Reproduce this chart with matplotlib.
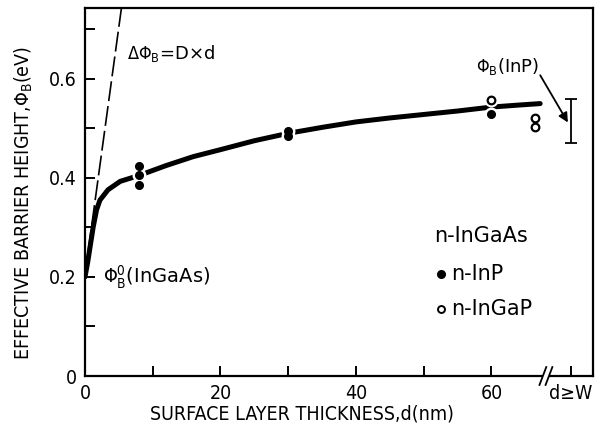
import matplotlib
matplotlib.use("Agg")
import matplotlib.pyplot as plt
import numpy as np

plt.rcParams['font.family'] = ['DejaVu Sans']
plt.rcParams['font.stretch'] = 'condensed'
plt.rcParams['mathtext.fontset'] = 'dejavusans'

# Fitted curve (effective barrier height vs. surface layer thickness)
curve_d = [0, 0.4, 0.8, 1.2, 1.7, 2.2, 3.4, 5.2, 8, 12, 16, 20, 25, 30, 35, 40, 45, 50, 55, 60, 64, 67.2]
curve_phi = [0.20, 0.23, 0.265, 0.30, 0.335, 0.355, 0.376, 0.393, 0.405, 0.425, 0.443, 0.457,
             0.475, 0.49, 0.502, 0.513, 0.521, 0.528, 0.535, 0.543, 0.547, 0.55]

# Measured points
inp_d = [8, 8, 8, 30, 30, 60]
inp_phi = [0.423, 0.405, 0.385, 0.495, 0.485, 0.528]
ingap_d = [60, 66.5, 66.5]
ingap_phi = [0.557, 0.521, 0.503]

# Linear reference  dPhi_B = D x d
dash_d = [0, 5.6]
dash_phi = [0.205, 0.765]

# Bulk InP barrier height (d >= W)
bulk_d = [71.7]
bulk_phi = [0.515]
bulk_err = [0.045]

xticks_major = [0, 20, 40, 60, 71.7]
xtick_labels = ['0', '20', '40', '60', 'd≥W']
xticks_minor = [10, 30, 50]
yticks_major = [0, 0.2, 0.4, 0.6]
ytick_labels = ['0', '0.2', '0.4', '0.6']
yticks_minor = [0.1, 0.3, 0.5, 0.7]

fig = plt.figure(figsize=(6.03, 4.45), dpi=100)
ax = fig.add_axes([85/603, 69/445, 508/603, 368/445])
ax.set_xlim(0, 75)
ax.set_ylim(0, 0.743)

ax.plot(curve_d, curve_phi, color='black', lw=3.6, solid_capstyle='round', zorder=2)
ax.plot(dash_d, dash_phi, color='black', lw=1.2, dashes=(12, 3), zorder=2)

all_d = inp_d + ingap_d
all_phi = inp_phi + ingap_phi
ax.plot(all_d, all_phi, 'o', ms=9, color='white', mec='white', zorder=3)
ax.plot(inp_d, inp_phi, 'o', ms=5.5, color='black', mec='black', zorder=4)
ax.plot(ingap_d, ingap_phi, 'o', ms=5.5, mfc='white', mec='black', mew=1.6, zorder=4)

ax.errorbar(bulk_d, bulk_phi, yerr=bulk_err, fmt='none', ecolor='black', elinewidth=1.3,
            capsize=4, capthick=1.3, zorder=4)

ax.annotate('', xy=(71.5, 0.507), xytext=(67.0, 0.612),
            arrowprops=dict(arrowstyle='-|>', color='black', lw=1.3, mutation_scale=14))

tkw = dict(stretch='normal', va='center', ha='left')
ax.text(6.2, 0.652, r'$\Delta\Phi_\mathrm{B}$=D×d', fontsize=13, **tkw)
ax.text(2.6, 0.2, r'$\Phi_\mathrm{B}^{0}$(InGaAs)', fontsize=14, **tkw)
ax.text(57.8, 0.624, r'$\Phi_\mathrm{B}$(InP)', fontsize=13, **tkw)

ax.text(51.6, 0.283, 'n-InGaAs', fontsize=15, **tkw)
ax.plot([52.6], [0.205], 'o', ms=5.5, color='black', clip_on=False)
ax.text(54.0, 0.205, 'n-InP', fontsize=15, **tkw)
ax.plot([52.6], [0.135], 'o', ms=5, mfc='white', mec='black', mew=1.4, clip_on=False)
ax.text(54.0, 0.135, 'n-InGaP', fontsize=15, **tkw)

ax.set_xticks(xticks_major)
ax.set_xticklabels(xtick_labels)
ax.set_xticks(xticks_minor, minor=True)
ax.set_yticks(yticks_major)
ax.set_yticklabels(ytick_labels)
ax.set_yticks(yticks_minor, minor=True)
ax.tick_params(which='both', direction='in', length=7.5, width=1.4, labelsize=14, pad=6)

for s in ax.spines.values():
    s.set_linewidth(1.6)

# axis break marks on the bottom spine
for xb in [67.6, 68.5]:
    ax.plot([xb - 0.5, xb + 0.5], [-0.018, 0.018], color='black', lw=1.3, clip_on=False, zorder=5)
ax.plot([67.9, 68.2], [0, 0], color='white', lw=3, clip_on=False, zorder=4.5)

ax.set_xlabel('SURFACE LAYER THICKNESS,d(nm)', fontsize=14, labelpad=1, x=0.427)
ax.set_ylabel(r'EFFECTIVE BARRIER HEIGHT,$\Phi_\mathrm{B}$(eV)', fontsize=14, labelpad=10, y=0.47)

fig.savefig('out.png', dpi=100)
